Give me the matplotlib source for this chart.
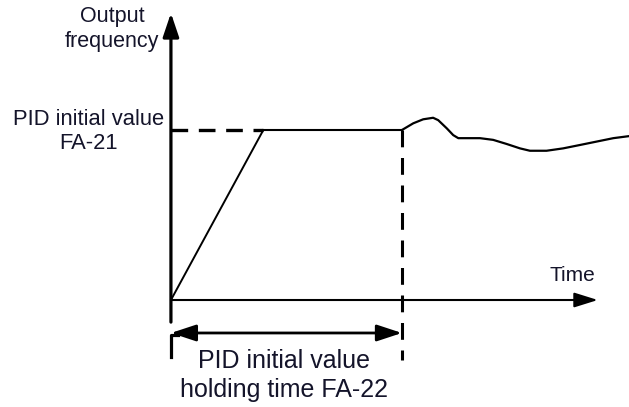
"""
PID initial value / holding time (FA-21, FA-22) timing sketch.
"""

import matplotlib
matplotlib.use("Agg")
import matplotlib.pyplot as plt

plt.rcParams["font.family"] = ["Liberation Sans", "DejaVu Sans"]

# --- Data (t in s, f in Hz, schematic) ------------------------------------
pid_init_value = 50.0     # FA-21
hold_time = 10.0          # FA-22
ramp_t = [0.0, 4.0]
ramp_f = [0.0, 50.0]
plateau_t = [4.0, 10.0]
plateau_f = [50.0, 50.0]

# PID regulated output after the holding time
pid_t = [10.0, 10.49, 10.92, 11.35, 11.57, 11.94, 12.22, 12.44, 13.38, 13.95,
         14.53, 15.11, 15.54, 16.26, 16.98, 17.71, 18.43, 19.15, 19.83]
pid_f = [50.0, 51.97, 53.15, 53.6, 52.9, 50.5, 48.5, 47.6, 47.6, 47.1,
         45.9, 44.6, 43.9, 43.9, 44.6, 45.6, 46.6, 47.6, 48.2]

# axis extents
t_axis_end = 18.48
f_axis_top = 84.4
f_axis_bottom = -6.5

INK = "#000000"
TXT = "#14142a"

fig = plt.figure(figsize=(6.29, 4.07), dpi=100)
ax = fig.add_axes([0, 0, 1, 1])
ax.set_xlim(-7.40, 19.83)
ax.set_ylim(-31.47, 88.24)
ax.axis("off")

# axes with arrows
ax.annotate("", xy=(0, f_axis_top), xytext=(0, f_axis_bottom),
            arrowprops=dict(arrowstyle="-|>,head_length=0.8,head_width=0.27",
                            mutation_scale=18, lw=2.3, color=INK,
                            shrinkA=0, shrinkB=0))
ax.annotate("", xy=(t_axis_end, 0), xytext=(0, 0),
            arrowprops=dict(arrowstyle="-|>,head_length=0.8,head_width=0.25",
                            mutation_scale=18, lw=1.5, color=INK,
                            shrinkA=0, shrinkB=0))

# frequency curve
ax.plot(ramp_t, ramp_f, color=INK, lw=1.4, solid_capstyle="butt")
ax.plot(plateau_t, plateau_f, color=INK, lw=1.5)
ax.plot(pid_t, pid_f, color=INK, lw=1.6, solid_joinstyle="round")

# dashed guides
ax.plot([0, ramp_t[1]], [pid_init_value, pid_init_value], color=INK,
        lw=2.4, dashes=(5, 3.2))
ax.plot([hold_time, hold_time], [pid_init_value, -17.6], color=INK,
        lw=2.2, dashes=(5.5, 3.5))

# holding time bracket
ax.plot([0.3, 0, 0], [-10.3, -10.3, -16.8], color=INK, lw=2.3)
ax.annotate("", xy=(hold_time, -9.7), xytext=(0, -9.7),
            arrowprops=dict(arrowstyle="<|-|>,head_length=0.85,head_width=0.28",
                            mutation_scale=18, lw=2.0, color=INK,
                            shrinkA=0, shrinkB=0))

# labels
ax.text(-2.55, 79.7, "Output\nfrequency", ha="center", va="center",
        fontsize=15.5, color=TXT, linespacing=1.2)
ax.text(-3.55, 49.6, "PID initial value\nFA-21", ha="center", va="center",
        fontsize=15.8, color=TXT, linespacing=1.15)
ax.text(17.4, 7.35, "Time", ha="center", va="center",
        fontsize=15, color=TXT)
ax.text(4.9, -22.1, "PID initial value\nholding time FA-22", ha="center",
        va="center", fontsize=18, color=TXT, linespacing=1.25)

fig.savefig("out.png", dpi=100)
